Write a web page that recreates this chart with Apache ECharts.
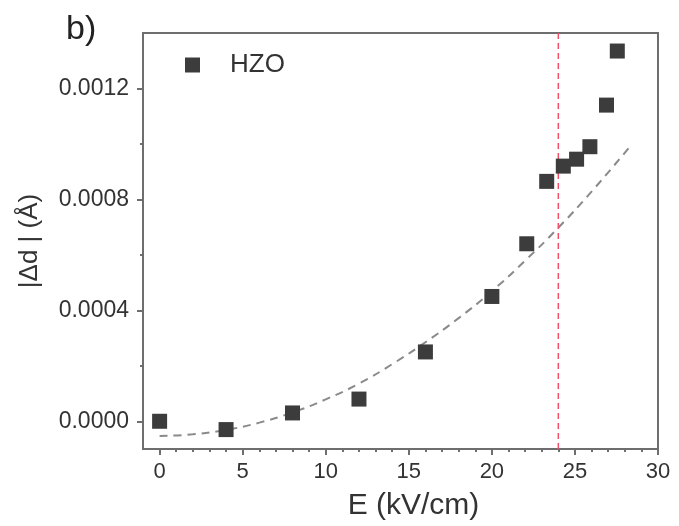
<!DOCTYPE html>
<html>
<head>
<meta charset="utf-8">
<script src="https://cdn.jsdelivr.net/npm/echarts@6/dist/echarts.min.js"></script>
<style>html,body{margin:0;padding:0;background:#fff;}#c{width:679px;height:526px;}</style>
</head>
<body>
<div id="c"></div>
<script>
// Measured data (HZO)
var fieldE = [0, 4, 8, 12, 16, 20, 22.1, 23.3, 24.3, 25.1, 25.9, 26.9, 27.55];
var deltaD = [0.0000, -0.00003, 0.00003, 0.00008, 0.00025, 0.00045, 0.00064, 0.000865, 0.00092, 0.000945, 0.00099, 0.00114, 0.001335];
// Dashed fit curve
var fitE = [0, 2, 4, 6, 8, 10, 12, 14, 16, 18, 20, 22, 24, 26, 28.4];
var fitD = [-0.000053, -0.000047, -0.000031, -0.000005, 0.000032, 0.000079, 0.000136, 0.000206, 0.000285, 0.000372, 0.000469, 0.000579, 0.000698, 0.000828, 0.000997];
// Vertical red marker
var markerE = 24;
// Ticks
var xMajor = [0, 5, 10, 15, 20, 25, 30];
var xMinor = [1, 2, 3, 4, 6, 7, 8, 9, 11, 12, 13, 14, 16, 17, 18, 19, 21, 22, 23, 24, 26, 27, 28, 29];
var yMajor = [0, 0.0004, 0.0008, 0.0012];
var yMinor = [0.0002, 0.0006, 0.0010];

var FONT = 'Liberation Sans, Arial, sans-serif';
var AX = '#6e6e6e';
var xMin = -1, xMax = 30, yMin = -0.0001, yMax = 0.0014;

var chart = echarts.init(document.getElementById('c'), null, {renderer: 'canvas'});
chart.setOption({
  animation: false,
  backgroundColor: '#fff',
  grid: {left: 143, top: 33, right: 21, bottom: 76, show: true, borderColor: AX, borderWidth: 2, backgroundColor: 'transparent'},
  legend: {
    data: ['HZO'], left: 180, top: 47, icon: 'rect', itemWidth: 15, itemHeight: 15,
    textStyle: {fontFamily: FONT, fontSize: 26, color: '#333', padding: [0, 0, 0, 25]}
  },
  graphic: [{type: 'text', left: 66, top: 13, style: {text: 'b)', font: '34px ' + FONT, fill: '#222'}}],
  xAxis: [{
    type: 'value', min: xMin, max: xMax, position: 'bottom',
    name: 'E (kV/cm)', nameLocation: 'middle', nameGap: 42,
    nameTextStyle: {fontFamily: FONT, fontSize: 30, color: '#333', padding: [0, 0, 0, 26]},
    axisLine: {show: true, onZero: false, lineStyle: {color: AX, width: 2}},
    axisTick: {show: true, customValues: xMajor, length: 6, lineStyle: {color: AX, width: 2}},
    axisLabel: {show: true, customValues: xMajor, margin: 12, fontFamily: FONT, fontSize: 22, color: '#333'},
    splitLine: {show: false}
  }, {
    type: 'value', min: xMin, max: xMax, position: 'bottom',
    axisLine: {show: false, onZero: false},
    axisTick: {show: true, customValues: xMinor, length: 3, lineStyle: {color: AX, width: 2}},
    axisLabel: {show: false}, splitLine: {show: false}
  }],
  yAxis: [{
    type: 'value', min: yMin, max: yMax, position: 'left',
    name: '|\u0394d | (\u00C5)', nameLocation: 'middle', nameGap: 100,
    nameTextStyle: {fontFamily: FONT, fontSize: 26, color: '#333'},
    axisLine: {show: true, onZero: false, lineStyle: {color: AX, width: 2}},
    axisTick: {show: true, customValues: yMajor, length: 6, lineStyle: {color: AX, width: 2}},
    axisLabel: {show: true, customValues: yMajor, margin: 14, fontFamily: FONT, fontSize: 23, color: '#333',
      formatter: function (v) { return v.toFixed(4); }},
    splitLine: {show: false}
  }, {
    type: 'value', min: yMin, max: yMax, position: 'left',
    axisLine: {show: false, onZero: false},
    axisTick: {show: true, customValues: yMinor, length: 3, lineStyle: {color: AX, width: 2}},
    axisLabel: {show: false}, splitLine: {show: false}
  }],
  series: [{
    name: 'fit', type: 'line', smooth: true, showSymbol: false, silent: true,
    data: fitE.map(function (e, i) { return [e, fitD[i]]; }),
    lineStyle: {color: '#8a8a8a', width: 2, type: [8, 6]}, z: 2
  }, {
    name: 'marker', type: 'line', showSymbol: false, silent: true,
    data: [[markerE, yMin], [markerE, yMax]],
    lineStyle: {color: '#f0506a', width: 1.5, type: [6, 4]}, z: 2
  }, {
    name: 'HZO', type: 'scatter', symbol: 'rect', symbolSize: 15,
    data: fieldE.map(function (e, i) { return [e, deltaD[i]]; }),
    itemStyle: {color: '#3c3c3c', opacity: 1}, z: 3
  }]
});
</script>
</body>
</html>
